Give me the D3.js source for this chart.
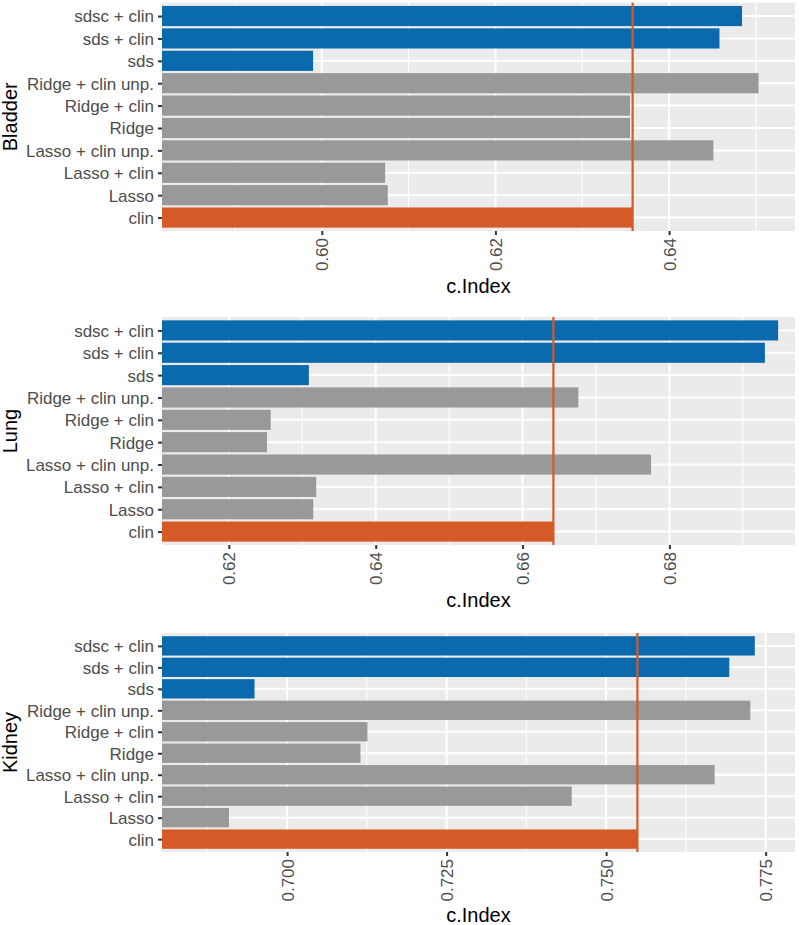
<!DOCTYPE html>
<html>
<head>
<meta charset="utf-8">
<script src="https://cdn.jsdelivr.net/npm/d3@7"></script>
<style>
  body { margin: 0; background: #fff; }
  svg { display: block; font-family: "Liberation Sans", Arial, sans-serif; }
</style>
</head>
<body>
<div id="chart"></div>
<script>
// categories, top to bottom
const categories = ["sdsc + clin", "sds + clin", "sds", "Ridge + clin unp.", "Ridge + clin",
  "Ridge", "Lasso + clin unp.", "Lasso + clin", "Lasso", "clin"];
const groups = ["sds", "sds", "sds", "pen", "pen", "pen", "pen", "pen", "pen", "clin"];

const bladderValues = [0.6484, 0.6458, 0.5990, 0.6503, 0.6355, 0.6355, 0.6451, 0.6073, 0.6076, 0.6358];
const lungValues    = [0.6948, 0.6930, 0.6309, 0.6676, 0.6257, 0.6252, 0.6775, 0.6319, 0.6315, 0.6642];
const kidneyValues  = [0.7733, 0.7693, 0.6949, 0.7726, 0.7126, 0.7115, 0.7670, 0.7446, 0.6909, 0.7549];

const bladderDomain = [0.5816, 0.6545];
const lungDomain    = [0.6109, 0.6971];
const kidneyDomain  = [0.6804, 0.7796];

const bladderTicks = [0.60, 0.62, 0.64];
const lungTicks    = [0.62, 0.64, 0.66, 0.68];
const kidneyTicks  = [0.700, 0.725, 0.750, 0.775];

const bladderMinor = [0.59, 0.61, 0.63, 0.65];
const lungMinor    = [0.63, 0.65, 0.67, 0.69];
const kidneyMinor  = [0.6875, 0.7125, 0.7375, 0.7625];

const colors = { sds: "#0a6aad", pen: "#999999", clin: "#d55a27" };

const w = 800, h = 925;
const left = 162, right = 795;

const svg = d3.select("#chart").append("svg")
  .attr("width", w)
  .attr("height", h);

const panels = [
  { name: "Bladder", values: bladderValues, domain: bladderDomain, ticks: bladderTicks,
    minor: bladderMinor, fmt: ".2f", top: 2.6, bottom: 231, titleY: 293 },
  { name: "Lung", values: lungValues, domain: lungDomain, ticks: lungTicks,
    minor: lungMinor, fmt: ".2f", top: 317, bottom: 545, titleY: 607 },
  { name: "Kidney", values: kidneyValues, domain: kidneyDomain, ticks: kidneyTicks,
    minor: kidneyMinor, fmt: ".3f", top: 633, bottom: 852, titleY: 922 }
];

panels.forEach(function (p) {
  const g = svg.append("g");

  const xScale = d3.scaleLinear().domain(p.domain).range([left, right]);
  const yScale = d3.scalePoint().domain(categories).range([p.top, p.bottom]).padding(0.6);
  const step = yScale.step();
  const clinValue = p.values[categories.indexOf("clin")];

  // clip so bars starting at 0 are cut at panel edge
  const clipId = "clip-" + p.name;
  svg.append("clipPath").attr("id", clipId)
    .append("rect")
    .attr("x", left).attr("y", p.top)
    .attr("width", right - left).attr("height", p.bottom - p.top);

  // panel background
  g.append("rect")
    .attr("x", left).attr("y", p.top)
    .attr("width", right - left).attr("height", p.bottom - p.top)
    .attr("fill", "#ebebeb");

  // grid lines
  g.selectAll(".minor").data(p.minor).enter().append("line")
    .attr("x1", d => xScale(d)).attr("x2", d => xScale(d))
    .attr("y1", p.top).attr("y2", p.bottom)
    .attr("stroke", "#fff").attr("stroke-width", 1);

  g.selectAll(".major").data(p.ticks).enter().append("line")
    .attr("x1", d => xScale(d)).attr("x2", d => xScale(d))
    .attr("y1", p.top).attr("y2", p.bottom)
    .attr("stroke", "#fff").attr("stroke-width", 2);

  g.selectAll(".hmajor").data(categories).enter().append("line")
    .attr("x1", left).attr("x2", right)
    .attr("y1", d => yScale(d)).attr("y2", d => yScale(d))
    .attr("stroke", "#fff").attr("stroke-width", 2);

  // bars
  g.append("g").attr("clip-path", "url(#" + clipId + ")")
    .selectAll("rect")
    .data(categories)
    .enter()
    .append("rect")
    .attr("x", xScale(0))
    .attr("y", d => yScale(d) - step * 0.45)
    .attr("width", (d, i) => xScale(p.values[i]) - xScale(0))
    .attr("height", step * 0.9)
    .attr("fill", (d, i) => colors[groups[i]]);

  // reference line at clin
  g.append("line")
    .attr("x1", xScale(clinValue)).attr("x2", xScale(clinValue))
    .attr("y1", p.top).attr("y2", p.bottom)
    .attr("stroke", colors.clin)
    .attr("stroke-width", 2.2);

  // y axis (categories)
  const yAxis = g.append("g")
    .attr("transform", "translate(" + left + ",0)")
    .call(d3.axisLeft(yScale).tickSize(4).tickPadding(4));
  yAxis.select(".domain").remove();
  yAxis.selectAll(".tick line").attr("stroke", "#333").attr("stroke-width", 2);
  yAxis.selectAll(".tick text")
    .attr("fill", "#4d4d4d")
    .style("font-size", "17px")
    .attr("dy", "0.35em");

  // x axis
  const xAxis = g.append("g")
    .attr("transform", "translate(0," + p.bottom + ")")
    .call(d3.axisBottom(xScale).tickValues(p.ticks).tickFormat(d3.format(p.fmt)).tickSize(4));
  xAxis.select(".domain").remove();
  xAxis.selectAll(".tick line").attr("stroke", "#333").attr("stroke-width", 2);
  xAxis.selectAll(".tick text")
    .attr("fill", "#4d4d4d")
    .style("font-size", "17px")
    .attr("text-anchor", "end")
    .attr("transform", "rotate(-90)")
    .attr("x", -7)
    .attr("y", 0)
    .attr("dy", "0.35em");

  // axis titles
  svg.append("text")
    .attr("x", (left + right) / 2)
    .attr("y", p.titleY)
    .attr("text-anchor", "middle")
    .style("font-size", "20px")
    .attr("fill", "#000")
    .text("c.Index");

  svg.append("text")
    .attr("transform", "translate(17," + ((p.top + p.bottom) / 2) + ") rotate(-90)")
    .attr("text-anchor", "middle")
    .style("font-size", "20px")
    .attr("fill", "#000")
    .text(p.name);
});
</script>
</body>
</html>
